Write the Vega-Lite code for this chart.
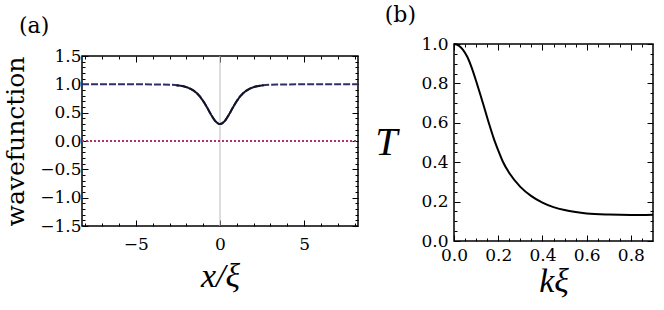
{
  "$schema": "https://vega.github.io/schema/vega-lite/v6.json",
  "background": "white",
  "padding": {"left": 2, "top": 3, "right": 5, "bottom": 5},
  "spacing": 10,
  "config": {
    "font": "DejaVu Serif",
    "view": {"stroke": "black", "strokeWidth": 1.5},
    "axis": {
      "labelFont": "DejaVu Serif",
      "labelFontSize": 17,
      "labelColor": "black",
      "labelFlush": false,
      "titleFont": "DejaVu Serif",
      "titleFontWeight": "normal",
      "titleColor": "black",
      "domain": false,
      "grid": false,
      "tickColor": "black",
      "tickWidth": 1
    },
    "title": {"font": "DejaVu Serif", "fontWeight": "normal", "color": "black", "fontSize": 22}
  },
  "datasets": {
    "wf": [
      {"x": -8.2, "y": 1.0, "s": "Re"},
      {"x": -6, "y": 1.0, "s": "Re"},
      {"x": -4, "y": 0.999, "s": "Re"},
      {"x": -3.5, "y": 0.997, "s": "Re"},
      {"x": -3, "y": 0.993, "s": "Re"},
      {"x": -2.5, "y": 0.981, "s": "Re"},
      {"x": -2, "y": 0.951, "s": "Re"},
      {"x": -1.75, "y": 0.92, "s": "Re"},
      {"x": -1.5, "y": 0.874, "s": "Re"},
      {"x": -1.25, "y": 0.804, "s": "Re"},
      {"x": -1, "y": 0.706, "s": "Re"},
      {"x": -0.75, "y": 0.582, "s": "Re"},
      {"x": -0.5, "y": 0.45, "s": "Re"},
      {"x": -0.25, "y": 0.342, "s": "Re"},
      {"x": 0, "y": 0.3, "s": "Re"},
      {"x": 0.25, "y": 0.342, "s": "Re"},
      {"x": 0.5, "y": 0.45, "s": "Re"},
      {"x": 0.75, "y": 0.582, "s": "Re"},
      {"x": 1, "y": 0.706, "s": "Re"},
      {"x": 1.25, "y": 0.804, "s": "Re"},
      {"x": 1.5, "y": 0.874, "s": "Re"},
      {"x": 1.75, "y": 0.92, "s": "Re"},
      {"x": 2, "y": 0.951, "s": "Re"},
      {"x": 2.5, "y": 0.981, "s": "Re"},
      {"x": 3, "y": 0.993, "s": "Re"},
      {"x": 3.5, "y": 0.997, "s": "Re"},
      {"x": 4, "y": 0.999, "s": "Re"},
      {"x": 6, "y": 1.0, "s": "Re"},
      {"x": 8.2, "y": 1.0, "s": "Re"},
      {"x": -2.6, "y": 0.985, "s": "Abs"},
      {"x": -2.5, "y": 0.981, "s": "Abs"},
      {"x": -2, "y": 0.951, "s": "Abs"},
      {"x": -1.75, "y": 0.92, "s": "Abs"},
      {"x": -1.5, "y": 0.874, "s": "Abs"},
      {"x": -1.25, "y": 0.804, "s": "Abs"},
      {"x": -1, "y": 0.706, "s": "Abs"},
      {"x": -0.75, "y": 0.582, "s": "Abs"},
      {"x": -0.5, "y": 0.45, "s": "Abs"},
      {"x": -0.25, "y": 0.342, "s": "Abs"},
      {"x": 0, "y": 0.3, "s": "Abs"},
      {"x": 0.25, "y": 0.342, "s": "Abs"},
      {"x": 0.5, "y": 0.45, "s": "Abs"},
      {"x": 0.75, "y": 0.582, "s": "Abs"},
      {"x": 1, "y": 0.706, "s": "Abs"},
      {"x": 1.25, "y": 0.804, "s": "Abs"},
      {"x": 1.5, "y": 0.874, "s": "Abs"},
      {"x": 1.75, "y": 0.92, "s": "Abs"},
      {"x": 2, "y": 0.951, "s": "Abs"},
      {"x": 2.5, "y": 0.981, "s": "Abs"},
      {"x": 2.6, "y": 0.985, "s": "Abs"},
      {"x": -8.2, "y": 0.0, "s": "Im"},
      {"x": 8.2, "y": 0.0, "s": "Im"}
    ],
    "tr": [
      {"k": 0.0, "T": 1.0},
      {"k": 0.02, "T": 0.993},
      {"k": 0.04, "T": 0.972},
      {"k": 0.06, "T": 0.935},
      {"k": 0.08, "T": 0.88},
      {"k": 0.1, "T": 0.812},
      {"k": 0.12, "T": 0.74},
      {"k": 0.14, "T": 0.665},
      {"k": 0.16, "T": 0.59},
      {"k": 0.18, "T": 0.52},
      {"k": 0.2, "T": 0.46},
      {"k": 0.22, "T": 0.405},
      {"k": 0.25, "T": 0.345},
      {"k": 0.3, "T": 0.275},
      {"k": 0.35, "T": 0.228},
      {"k": 0.4, "T": 0.195},
      {"k": 0.45, "T": 0.172},
      {"k": 0.5, "T": 0.157},
      {"k": 0.55, "T": 0.147},
      {"k": 0.6, "T": 0.14},
      {"k": 0.7, "T": 0.134},
      {"k": 0.8, "T": 0.132},
      {"k": 0.9, "T": 0.133}
    ]
  },
  "hconcat": [
    {
      "spacing": 0,
      "vconcat": [
        {
          "title": {"text": "(a)", "anchor": "start", "frame": "group", "dx": -63, "offset": 6},
          "width": 276,
          "height": 2,
          "view": {"stroke": null},
          "data": {"values": [{"v": 0}]},
          "mark": {"type": "point", "opacity": 0, "size": 1}
        },
        {
          "width": 276,
          "height": 170,
          "layer": [
            {
              "data": {"values": [{"x0": 0}]},
              "mark": {"type": "rule", "color": "#bbbbbb", "strokeWidth": 1},
              "encoding": {
                "x": {"field": "x0", "type": "quantitative", "scale": {"domain": [-8.2, 8.2], "nice": false, "zero": false}, "axis": null}
              }
            },
            {
              "data": {"name": "wf"},
              "mark": {"type": "line", "strokeWidth": 2, "interpolate": "monotone"},
              "encoding": {
                "x": {
                  "field": "x", "type": "quantitative",
                  "scale": {"domain": [-8.2, 8.2], "nice": false, "zero": false},
                  "axis": {
                    "orient": "bottom",
                    "values": [-8, -7, -6, -5, -4, -3, -2, -1, 0, 1, 2, 3, 4, 5, 6, 7, 8],
                    "labelExpr": "datum.value % 5 === 0 ? datum.label : ''",
                    "tickSize": {"condition": {"test": "datum.value % 5 === 0", "value": -6}, "value": -3},
                    "labelPadding": 16,
                    "title": "x/ξ",
                    "titleFont": "Liberation Serif",
                    "titleFontStyle": "italic",
                    "titleFontSize": 34,
                    "titlePadding": 7
                  }
                },
                "y": {
                  "field": "y", "type": "quantitative",
                  "scale": {"domain": [-1.5, 1.5], "nice": false, "zero": false},
                  "axis": {
                    "orient": "left",
                    "values": [-1.5, -1.4, -1.3, -1.2, -1.1, -1.0, -0.9, -0.8, -0.7, -0.6, -0.5, -0.4, -0.3, -0.2, -0.1, 0, 0.1, 0.2, 0.3, 0.4, 0.5, 0.6, 0.7, 0.8, 0.9, 1.0, 1.1, 1.2, 1.3, 1.4, 1.5],
                    "format": ".1f",
                    "labelExpr": "abs(datum.value * 2 - round(datum.value * 2)) < 0.001 ? datum.label : ''",
                    "tickSize": {"condition": {"test": "abs(datum.value * 2 - round(datum.value * 2)) < 0.001", "value": -6}, "value": -3},
                    "labelPadding": 7,
                    "title": "wavefunction",
                    "titleFontSize": 25,
                    "titlePadding": 11
                  }
                },
                "color": {
                  "field": "s", "type": "nominal",
                  "scale": {"domain": ["Re", "Abs", "Im"], "range": ["#2e2e6a", "#141428", "#b03068"]},
                  "legend": null
                },
                "strokeDash": {
                  "field": "s", "type": "nominal",
                  "scale": {"domain": ["Re", "Abs", "Im"], "range": [[7, 2], [1, 0], [2, 2]]},
                  "legend": null
                },
                "order": {"field": "x", "type": "quantitative"}
              }
            },
            {
              "data": {"name": "wf"},
              "mark": {"type": "point", "opacity": 0},
              "encoding": {
                "x": {
                  "field": "x", "type": "quantitative",
                  "scale": {"domain": [-8.2, 8.2], "nice": false, "zero": false},
                  "axis": {
                    "orient": "top",
                    "values": [-8, -7, -6, -5, -4, -3, -2, -1, 0, 1, 2, 3, 4, 5, 6, 7, 8],
                    "labels": false,
                    "tickSize": {"condition": {"test": "datum.value % 5 === 0", "value": -6}, "value": -3},
                    "title": null
                  }
                },
                "y": {
                  "field": "y", "type": "quantitative",
                  "scale": {"domain": [-1.5, 1.5], "nice": false, "zero": false},
                  "axis": {
                    "orient": "right",
                    "values": [-1.5, -1.4, -1.3, -1.2, -1.1, -1.0, -0.9, -0.8, -0.7, -0.6, -0.5, -0.4, -0.3, -0.2, -0.1, 0, 0.1, 0.2, 0.3, 0.4, 0.5, 0.6, 0.7, 0.8, 0.9, 1.0, 1.1, 1.2, 1.3, 1.4, 1.5],
                    "labels": false,
                    "tickSize": {"condition": {"test": "abs(datum.value * 2 - round(datum.value * 2)) < 0.001", "value": -6}, "value": -3},
                    "title": null
                  }
                }
              }
            }
          ],
          "resolve": {"scale": {"x": "independent", "y": "independent"}}
        }
      ]
    },
    {
      "title": {"text": "(b)", "anchor": "start", "frame": "bounds", "dx": 10, "offset": 8},
      "width": 199,
      "height": 197,
      "layer": [
        {
          "data": {"name": "tr"},
          "mark": {"type": "line", "strokeWidth": 2, "color": "black", "interpolate": "monotone"},
          "encoding": {
            "x": {
              "field": "k", "type": "quantitative",
              "scale": {"domain": [0, 0.9], "nice": false, "zero": false},
              "axis": {
                "orient": "bottom",
                "values": [0, 0.05, 0.1, 0.15, 0.2, 0.25, 0.3, 0.35, 0.4, 0.45, 0.5, 0.55, 0.6, 0.65, 0.7, 0.75, 0.8, 0.85],
                "format": ".1f",
                "labelExpr": "abs(datum.value * 5 - round(datum.value * 5)) < 0.001 ? datum.label : ''",
                "tickSize": {"condition": {"test": "abs(datum.value * 5 - round(datum.value * 5)) < 0.001", "value": -6}, "value": -3},
                "labelPadding": 12,
                "title": "kξ",
                "titleFont": "Liberation Serif",
                "titleFontStyle": "italic",
                "titleFontSize": 34,
                "titlePadding": 1
              }
            },
            "y": {
              "field": "T", "type": "quantitative",
              "scale": {"domain": [0, 1], "nice": false, "zero": false},
              "axis": {
                "orient": "left",
                "values": [0, 0.05, 0.1, 0.15, 0.2, 0.25, 0.3, 0.35, 0.4, 0.45, 0.5, 0.55, 0.6, 0.65, 0.7, 0.75, 0.8, 0.85, 0.9, 0.95, 1.0],
                "format": ".1f",
                "labelExpr": "abs(datum.value * 5 - round(datum.value * 5)) < 0.001 ? datum.label : ''",
                "tickSize": {"condition": {"test": "abs(datum.value * 5 - round(datum.value * 5)) < 0.001", "value": -6}, "value": -3},
                "labelPadding": 12,
                "title": "T",
                "titleFont": "Liberation Serif",
                "titleAngle": 0,
                "titleFontStyle": "italic",
                "titleFontSize": 40,
                "titleBaseline": "middle",
                "titleAlign": "right",
                "titlePadding": 24
              }
            }
          }
        },
        {
          "data": {"name": "tr"},
          "mark": {"type": "point", "opacity": 0},
          "encoding": {
            "x": {
              "field": "k", "type": "quantitative",
              "scale": {"domain": [0, 0.9], "nice": false, "zero": false},
              "axis": {
                "orient": "top",
                "values": [0, 0.05, 0.1, 0.15, 0.2, 0.25, 0.3, 0.35, 0.4, 0.45, 0.5, 0.55, 0.6, 0.65, 0.7, 0.75, 0.8, 0.85],
                "labels": false,
                "tickSize": {"condition": {"test": "abs(datum.value * 5 - round(datum.value * 5)) < 0.001", "value": -6}, "value": -3},
                "title": null
              }
            },
            "y": {
              "field": "T", "type": "quantitative",
              "scale": {"domain": [0, 1], "nice": false, "zero": false},
              "axis": {
                "orient": "right",
                "values": [0, 0.05, 0.1, 0.15, 0.2, 0.25, 0.3, 0.35, 0.4, 0.45, 0.5, 0.55, 0.6, 0.65, 0.7, 0.75, 0.8, 0.85, 0.9, 0.95, 1.0],
                "labels": false,
                "tickSize": {"condition": {"test": "abs(datum.value * 5 - round(datum.value * 5)) < 0.001", "value": -6}, "value": -3},
                "title": null
              }
            }
          }
        }
      ],
      "resolve": {"scale": {"x": "independent", "y": "independent"}}
    }
  ]
}
